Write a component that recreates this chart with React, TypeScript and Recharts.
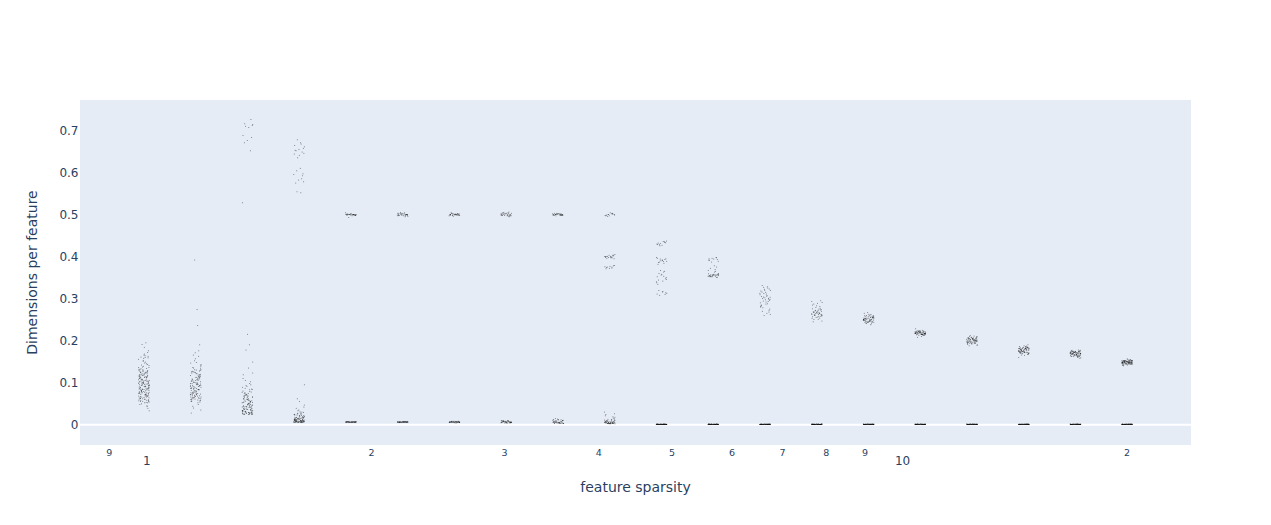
import React from 'react';
import { ScatterChart, Scatter, XAxis, YAxis, ReferenceLine } from 'recharts';

const featureSparsity = [
  1, 1.171, 1.371, 1.605, 1.879, 2.2, 2.576, 3.016, 3.532, 4.135,
  4.842, 5.669, 6.638, 7.772, 9.1, 10.65, 12.47, 14.6, 17.09, 20,
];

const xTicks = [0.9, 1, 2, 3, 4, 5, 6, 7, 8, 9, 10, 20];
const xTickLabels = ['9', '1', '2', '3', '4', '5', '6', '7', '8', '9', '10', '2'];
const yTicks = [0, 0.1, 0.2, 0.3, 0.4, 0.5, 0.6, 0.7];

// horizontal strip jitter, percent of the sparsity value
const jitterPct = [
  -1.12, 0.67, 1.53, -0.31, -1.58, 0.24, 1.06, -0.83, 1.61, -0.57, 0.41, -1.36, 1.27, -0.08, -0.96, 0.88, 1.44, -1.49, 0.03, 0.59,
  -0.46, 1.59, -1.23, 0.33, -0.74, 1.14, -1.62, 0.76, -0.17, 1.36, -1.04, 0.49, -0.66, 0.97, -1.41, 0.12, 1.49, -0.38, -1.19, 0.83,
  -0.52, 1.21, -1.29, 0.28, -0.89, 1.01, 0.54, -1.53, 0.72, -0.23, 1.32, -0.69, 0.18, -1.08, 1.56, -0.43, 0.92, -1.33, 0.37, -0.78,
  1.17, -0.12, -1.46, 0.63, 1.41, -0.94, 0.07,
];

const strip01 = [
  .112, .087, .064, .131, .098, .052, .143, .076, .105, .191, .092, .118, .069, .158, .083, .124, .059, .101, .166, .073,
  .137, .095, .048, .114, .081, .172, .107, .066, .128, .089, .055, .149, .099, .121, .078, .184, .093, .062, .116, .134,
  .085, .039, .103, .071, .161, .126, .091, .057, .109, .153, .075, .119, .096, .067, .141, .084, .045, .111, .164, .079,
  .129, .101, .061, .097, .176, .072, .122, .088, .053, .136, .106, .068, .147, .115, .082, .033, .094, .125, .074, .163,
  .102, .058, .113, .086, .132, .065, .195, .108, .077, .127, .09, .05, .117, .156, .07, .139, .1, .063, .123, .08,
  .043, .11, .168, .092, .056, .12, .145, .076, .104, .087, .06, .133, .097, .071, .116, .083, .151, .098, .066, .112,
  .089, .054, .128, .103, .078, .16, .094, .069, .118, .085, .106, .073, .125, .091, .063, .114, .082, .099, .136, .077,
  .052, .108, .088, .121, .068, .095, .159, .079, .111, .058, .102, .129, .084, .072, .117, .093, .064, .105, .142, .086,
  .075, .113, .098, .059, .124, .081, .107, .067, .09, .119, .055, .101, .132, .076, .096, .083, .115, .061, .104, .127,
];
const strip02 = [
  .392, .094, .071, .118, .062, .131, .086, .274, .103, .054, .124, .077, .163, .097, .066, .112, .236, .082, .141, .059,
  .107, .075, .128, .091, .048, .171, .116, .069, .099, .135, .083, .056, .121, .073, .152, .105, .064, .09, .19, .126,
  .079, .044, .109, .068, .147, .096, .061, .114, .085, .13, .072, .035, .101, .176, .088, .122, .065, .093, .157, .076,
  .11, .058, .127, .081, .098, .052, .138, .07, .117, .087, .063, .104, .143, .078, .095, .028, .119, .067, .108, .084,
  .133, .06, .1, .074, .125, .089, .055, .113, .166, .092, .071, .106, .08, .129, .064, .097, .04, .115, .086, .073,
  .102, .068, .123, .091, .078, .111, .061, .096, .136, .083, .107, .072, .118, .088, .057, .101, .148, .075, .093, .065,
  .114, .082, .099, .126, .069, .105, .087, .059, .12, .094, .076, .109, .084, .062, .131, .098, .073, .112, .09, .066,
];
const strip03 = [
  .726, .716, .714, .71, .707, .688, .683, .676, .671, .652, .712, .528, .215, .19, .178, .149,
  .045, .062, .031, .078, .052, .028, .091, .039, .069, .025, .056, .102, .034, .047, .084, .027, .063, .041, .073, .03,
  .119, .051, .036, .095, .058, .026, .043, .071, .033, .087, .049, .024, .066, .038, .054, .11, .029, .076, .044, .06,
  .032, .083, .046, .025, .068, .037, .098, .053, .028, .042, .074, .035, .059, .123, .031, .05, .08, .027, .065, .04,
  .056, .03, .089, .048, .026, .07, .034, .061, .135, .043, .029, .077, .052, .036, .024, .067, .041, .105,
  .048, .033, .06, .027, .072, .039, .055, .03, .085, .044, .025, .064, .036, .05, .028, .079, .042, .057, .032, .068,
  .026, .047, .093, .035, .053, .029, .07, .04, .061, .031, .046, .024, .075, .037, .054, .028, .066, .043, .034, .058,
];
const strip04 = [
  .678, .671, .664, .658, .655, .652, .649, .646, .644, .641, .668, .635, .661, .653,
  .61, .604, .597, .595, .585, .582, .578, .575, .552, .554, .592,
  .012, .021, .008, .033, .015, .006, .026, .01, .018, .007, .039, .013, .024, .009, .016, .006, .029, .011, .02, .008,
  .047, .014, .007, .023, .01, .018, .006, .035, .012, .027, .009, .017, .055, .007, .022, .011, .015, .006, .031, .013,
  .008, .019, .062, .01, .025, .007, .016, .009, .006, .042, .012, .021, .008, .014, .095, .006, .028, .011, .018, .007,
  .01, .007, .017, .012, .006, .023, .009, .014, .008, .02, .006, .011, .03, .007, .015, .01, .006, .013, .019, .008,
  .024, .007, .012, .009, .006, .016, .011, .007, .027, .01, .006, .014, .008, .018, .007, .011, .006, .022, .009, .013,
];
const strip05 = [
  .5, .499, .501, .5, .498, .5, .502, .499, .5, .5, .501, .497, .5, .499, .504, .5, .501, .498, .5, .5, .493, .499, .5, .501, .499, .5, .498, .5,
  .0065, .0062, .0068, .0065, .007, .0063, .0066, .0064, .0069, .0061, .0067, .0065, .0063, .0068, .0066, .0064, .0067, .0062, .0065, .0069, .0063, .0066,
  .0064, .0067, .0062, .0068, .0065, .0063, .0066, .0069, .0061, .0064, .0067, .0065, .0063, .0068, .0066, .0062, .0065, .0067,
];
const strip06 = [
  .5, .498, .503, .499, .504, .501, .496, .5, .497, .502, .5, .499, .495, .503, .5, .498, .501, .505, .499, .497, .502, .5, .499, .503, .497, .501, .5, .498,
  .0065, .0058, .007, .0062, .0073, .0066, .006, .0068, .0064, .0072, .0057, .0067, .0063, .0069, .0061, .0071, .0065, .0059, .0068, .0062, .007, .0064,
  .0066, .0061, .0069, .0063, .0072, .0058, .0067, .0064, .007, .006, .0066, .0062, .0071, .0065, .0059, .0068, .0063, .0067,
];
const strip07 = [
  .5, .499, .502, .498, .5, .501, .503, .499, .497, .5, .501, .499, .504, .5, .498, .502, .5, .499, .501, .496, .5, .502, .499, .501, .498, .5, .503, .499,
  .0065, .005, .0078, .0058, .0082, .0062, .0048, .0072, .0055, .0085, .0068, .0052, .0075, .006, .008, .0056, .007, .0046, .0066, .0078, .0054, .0064,
  .0072, .0058, .0068, .005, .0076, .0062, .0081, .0055, .0066, .0049, .0073, .0059, .0084, .0063, .0053, .0071,
];
const strip08 = [
  .503, .498, .5, .505, .497, .501, .496, .502, .499, .504, .498, .501, .495, .5, .503, .497, .502, .499, .506, .498, .5, .503, .497, .501, .499, .504, .498, .502,
  .0065, .0044, .0088, .0056, .0094, .0062, .0042, .0078, .0052, .0098, .0068, .0046, .0084, .0058, .0092, .005, .0074, .004, .0066, .0086, .0054, .007,
  .0048, .0079, .006, .0095, .0052, .0072, .0043, .0088, .0064, .0056, .0082, .0047, .0069, .0097, .0058, .0075,
];
const strip09 = [
  .5, .499, .502, .498, .501, .5, .503, .499, .497, .501, .5, .502, .499, .5, .498, .501, .503, .5, .499, .502, .5, .498, .501, .499, .5, .502, .498, .5,
  .006, .0035, .0105, .0048, .012, .007, .0032, .009, .0044, .0135, .0065, .0038, .0098, .0052, .0115, .0042, .0085, .003, .0058, .0108, .0046, .0075,
  .0145, .0036, .0092, .005, .0125, .0062, .0041, .0078, .0034, .0102, .0055, .0118, .0039, .0068, .0031, .0088, .0047, .0056,
];
const strip10 = [
  .503, .497, .5, .499, .502, .496, .501, .498, .504, .499, .5, .497, .502, .5,
  .402, .398, .401, .396, .404, .399, .4, .397, .403, .395, .401, .399, .4, .405, .398, .402, .4, .397,
  .375, .378, .372, .376, .373, .379, .374, .377, .371, .375,
  .006, .003, .011, .004, .016, .008, .0025, .013, .005, .021, .007, .003, .01, .0045, .026, .006, .0035, .012, .005, .018,
  .008, .003, .0095, .004, .03, .0065, .0025, .014, .0055, .009, .0035, .019, .007, .004, .011, .0045, .024, .006, .003, .008,
  .0045, .0025, .0075, .0035, .012, .005, .003, .0085, .0042, .0028, .0065, .0038, .0105, .0048, .003, .007,
];
const strip11 = [
  .432, .436, .428, .434, .43, .427, .437, .431, .429, .435, .426, .433,
  .396, .391, .386, .393, .388, .398, .384, .39, .395, .387, .392, .382, .389, .394,
  .365, .352, .342, .36, .347, .356, .338, .363, .35, .344, .358, .334, .353, .346, .367, .34,
  .316, .31, .319, .313, .308, .317, .311, .314,
];
const strip12 = [
  .397, .392, .394, .389, .396, .391, .398, .387, .393, .395,
  .378, .372, .375, .369, .367,
  .356, .354, .358, .353, .357, .355, .36, .352, .356, .354, .363, .357, .351, .355, .359, .353, .356, .352, .358, .354, .365, .355, .357, .353, .356, .35, .354, .358,
];
const strip13 = [
  .298, .312, .285, .325, .304, .272, .318, .292, .331, .301, .265, .309, .288, .322, .296, .278, .315, .305, .262, .327,
  .293, .282, .311, .3, .268, .32, .29, .307, .275, .316, .297, .283, .328, .303, .26, .313, .287, .299, .27, .319,
  .294, .306, .28, .323, .302,
];
const strip14 = [
  .265, .271, .258, .285, .268, .25, .277, .262, .293, .266, .255, .274, .26, .289, .269, .247, .264, .281, .257, .272,
  .263, .295, .267, .253, .275, .261, .287, .27, .245, .266, .259, .279, .264, .256, .273, .268, .291, .26, .251, .276,
  .263, .283, .267, .254, .27, .262, .265, .258, .272, .261,
];
const strip15 = [
  .252, .247, .258, .244, .255, .25, .262, .246, .253, .241, .259, .249, .256, .243, .251, .265, .248, .254, .245, .257,
  .25, .238, .26, .247, .253, .244, .256, .249, .267, .251, .246, .258, .242, .254, .25, .261, .248, .255, .245, .252,
  .24, .257, .249, .263, .247, .253, .244, .259, .251, .246, .255, .248, .25, .243, .256, .252, .249, .26, .247, .254,
];
const strip16 = [
  .219, .216, .222, .214, .22, .217, .224, .215, .221, .218, .213, .223, .219, .216, .22, .212, .222, .217, .225, .215,
  .218, .221, .214, .219, .216, .223, .217, .22, .213, .208, .218, .222, .215, .219, .217, .224, .216, .221, .214, .218,
  .22, .215, .222, .217, .219, .21, .216, .221, .218, .214, .22, .217, .223, .215, .219, .216, .228, .218, .221, .217,
];
const strip17 = [
  .202, .197, .206, .194, .204, .199, .209, .196, .203, .191, .207, .2, .205, .193, .201, .211, .198, .204, .195, .206,
  .2, .189, .208, .197, .203, .194, .205, .199, .212, .201, .196, .207, .192, .204, .2, .209, .198, .205, .195, .202,
  .19, .206, .199, .21, .197, .203, .194, .208, .201, .196, .204, .198, .2, .193, .205, .202, .199, .207, .197, .203,
  .2, .195, .204, .188, .201,
];
const strip18 = [
  .178, .173, .183, .17, .181, .176, .186, .172, .18, .167, .184, .177, .182, .169, .179, .188, .174, .181, .171, .183,
  .176, .165, .185, .173, .18, .17, .182, .175, .19, .178, .172, .184, .168, .181, .177, .186, .174, .182, .171, .179,
  .166, .183, .175, .187, .173, .18, .17, .185, .178, .172, .181, .174, .177, .169, .182, .179, .175, .184, .173, .18,
  .176, .171, .181, .16, .178, .174, .183, .176, .172, .179,
];
const strip19 = [
  .17, .166, .174, .163, .172, .168, .176, .165, .171, .161, .175, .169, .173, .162, .17, .177, .167, .172, .164, .174,
  .169, .159, .175, .166, .171, .163, .173, .168, .178, .17, .165, .175, .162, .172, .169, .176, .167, .173, .164, .17,
  .16, .174, .168, .177, .166, .171, .163, .175, .17, .165, .172, .167, .169, .162, .173, .17, .168, .174, .166, .171,
  .169, .164, .172, .158, .17, .167, .174, .169, .165, .171,
];
const strip20 = [
  .149, .146, .152, .144, .151, .148, .154, .145, .15, .142, .153, .148, .152, .143, .149, .155, .147, .151, .145, .152,
  .148, .141, .153, .146, .15, .144, .152, .148, .157, .149, .146, .153, .143, .151, .148, .154, .147, .152, .145, .15,
  .142, .152, .148, .155, .146, .15, .144, .153, .149, .146, .151, .147, .149, .143, .152, .15, .148, .153, .146, .15,
  .148, .145, .151, .14, .149, .147, .152, .149, .146, .15, .148, .151, .145, .149, .147, .152, .148, .146, .15, .149,
];

// the flat dash just above zero, shared by the sparsest strips
const nearZeroDims = [
  .0009, .0003, .0015, .0006, .0012, .0002, .0016, .0008, .0004, .0014, .0006, .0011, .0003, .0009, .0015, .0005, .0012, .0002, .0008, .0004,
  .0014, .0007, .0011, .0003, .001, .0016, .0005, .0002, .0013, .0008, .0004, .0015, .0006, .0009, .0012, .0003, .0014, .0002, .0007, .0011,
  .0009, .0004, .0015, .0006, .0012, .0008, .0003, .0014, .0005, .0002, .0011, .0009, .0004, .0016, .0007, .0013, .0008, .0003, .0015, .0006,
];

const stripDims = [
  strip01, strip02, strip03, strip04, strip05, strip06, strip07, strip08, strip09, strip10,
  strip11.concat(nearZeroDims), strip12.concat(nearZeroDims), strip13.concat(nearZeroDims), strip14.concat(nearZeroDims), strip15.concat(nearZeroDims),
  strip16.concat(nearZeroDims), strip17.concat(nearZeroDims), strip18.concat(nearZeroDims), strip19.concat(nearZeroDims), strip20.concat(nearZeroDims),
];

const points = stripDims.flatMap((dims, s) =>
  dims.map((dim, i) => ({
    sparsity: featureSparsity[s] * (1 + jitterPct[(i + s * 3) % jitterPct.length] / 100),
    dim,
  }))
);

const tickColor = '#2a3f5f';
const fontFamily = '"DejaVu Sans", Verdana, sans-serif';

function XTick({ x, y, payload }: any) {
  const major = payload.value === 1 || payload.value === 10;
  return (
    <text
      x={major ? x + 3 : x}
      y={major ? y + 12 : y + 3}
      textAnchor="middle"
      fontSize={major ? 12 : 9.5}
      fill={tickColor}
      fontFamily={fontFamily}
    >
      {xTickLabels[xTicks.indexOf(payload.value)]}
    </text>
  );
}

function YTick({ y, payload }: any) {
  return (
    <text x={78.5} y={y + 4.5} textAnchor="end" fontSize={12} fill={tickColor} fontFamily={fontFamily}>
      {payload.value}
    </text>
  );
}

function Dot({ cx, cy }: any) {
  return <circle cx={cx} cy={cy} r={0.5} fill="#000" fillOpacity={0.55} />;
}

export default function App() {
  return (
    <div style={{ position: 'absolute', left: 0, top: 0, width: 1271, height: 525, background: '#fff' }}>
      <ScatterChart width={1271} height={525} margin={{ top: 100, right: 80, bottom: 0, left: 0 }}>
        <rect x={80} y={100} width={1111} height={345} fill="#E5ECF6" />
        <XAxis
          type="number"
          dataKey="sparsity"
          scale="log"
          domain={[0.823, 24.3]}
          allowDataOverflow
          ticks={xTicks}
          interval={0}
          height={80}
          axisLine={false}
          tickLine={false}
          tick={XTick}
          label={{ value: 'feature sparsity', position: 'insideBottom', offset: 33, fill: tickColor, fontSize: 14, fontFamily }}
        />
        <YAxis
          type="number"
          dataKey="dim"
          domain={[-0.0483, 0.7725]}
          allowDataOverflow
          ticks={yTicks}
          interval={0}
          width={80}
          axisLine={false}
          tickLine={false}
          tick={YTick}
          label={{ value: 'Dimensions per feature', angle: -90, position: 'insideLeft', offset: 32, fill: tickColor, fontSize: 14, fontFamily, style: { textAnchor: 'middle' } }}
        />
        <ReferenceLine y={0} stroke="#fff" strokeWidth={2} />
        <Scatter data={points} shape={Dot} isAnimationActive={false} />
      </ScatterChart>
    </div>
  );
}
